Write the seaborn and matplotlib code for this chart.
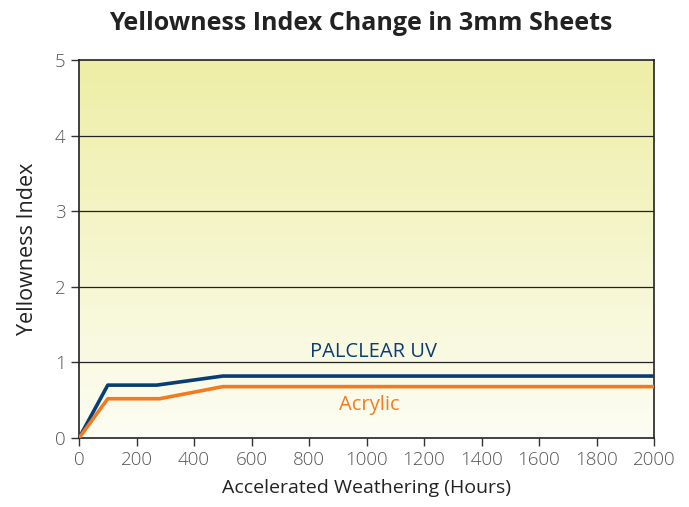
import numpy as np
import pandas as pd
import seaborn as sns
import matplotlib.pyplot as plt
from matplotlib.colors import LinearSegmentedColormap

# data
hours_uv = [0, 100, 270, 500, 2000]
yi_uv = [0.0, 0.70, 0.70, 0.82, 0.82]
hours_acr = [0, 100, 280, 500, 2000]
yi_acr = [0.0, 0.52, 0.52, 0.68, 0.68]

df = pd.concat([
    pd.DataFrame({"hours": hours_uv, "yi": yi_uv, "material": "PALCLEAR UV"}),
    pd.DataFrame({"hours": hours_acr, "yi": yi_acr, "material": "Acrylic"}),
])

sns.set_style("white")
plt.rcParams['font.family'] = ['Open Sans', 'DejaVu Sans']

fig = plt.figure(figsize=(6.89, 5.07), dpi=100)
ax = fig.add_axes([0.1147, 0.136, 0.8345, 0.7456])

# background gradient yellow -> white
cmap = LinearSegmentedColormap.from_list("bg", ["#fdfdf4", "#eeeea6"])
grad = np.linspace(0, 1, 256).reshape(-1, 1)
ax.imshow(grad, extent=[0, 2000, 0, 5], origin="lower", aspect="auto",
          cmap=cmap, zorder=0)

for y in [1, 2, 3, 4]:
    ax.axhline(y, color="#222222", lw=0.9, zorder=1)

sns.lineplot(data=df, x="hours", y="yi", hue="material",
             palette={"PALCLEAR UV": "#0a3d73", "Acrylic": "#f47a20"},
             linewidth=2.6, legend=False, ax=ax, zorder=3)

ax.text(1025, 1.01, "PALCLEAR UV", color="#0a3d73", fontsize=14.5,
        ha="center", va="bottom")
ax.text(1010, 0.57, "Acrylic", color="#f47a20", fontsize=14.5,
        ha="center", va="top")

ax.set_xlim(0, 2000)
ax.set_ylim(0, 5)
ax.set_xticks(range(0, 2001, 200))
ax.set_yticks(range(0, 6))
ax.tick_params(axis="both", direction="out", length=6, width=1,
               color="#333333", labelcolor="#555555", labelsize=13.5,
               bottom=True, left=True)
for lab in ax.get_xticklabels() + ax.get_yticklabels():
    lab.set_fontweight("light")
for s in ax.spines.values():
    s.set_color("#222222")
    s.set_linewidth(1.2)

ax.set_xlabel("Accelerated Weathering (Hours)", fontsize=14, color="#222222", labelpad=7)
ax.set_ylabel("Yellowness Index", fontsize=15.5, color="#222222", labelpad=12)
fig.suptitle("Yellowness Index Change in 3mm Sheets", fontsize=18,
             fontweight="bold", color="#222222", x=0.523, y=0.978)

fig.savefig("out.png", dpi=100)
